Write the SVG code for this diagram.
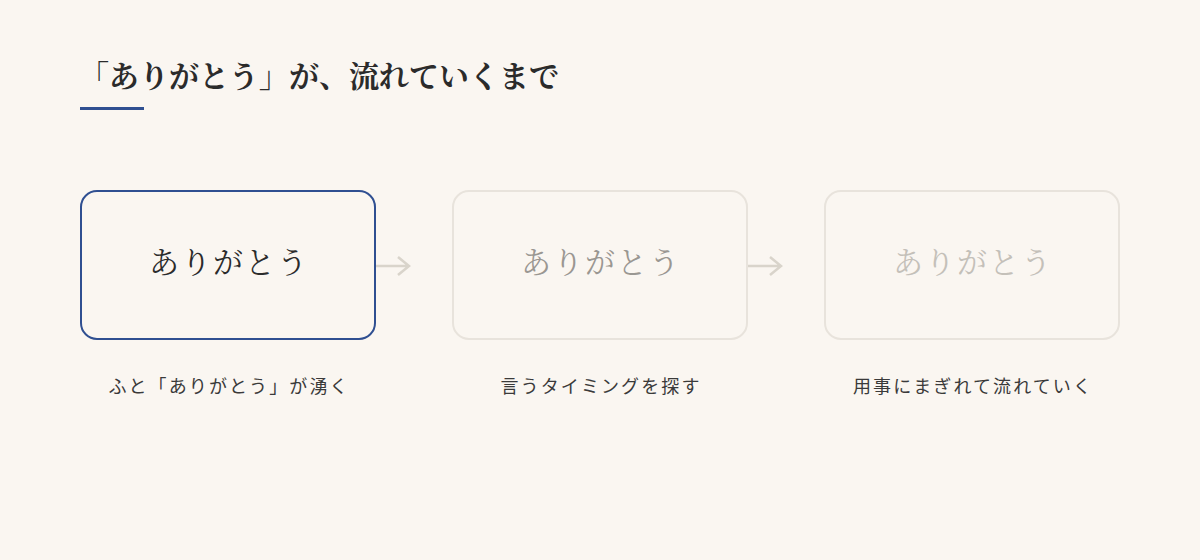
<svg xmlns="http://www.w3.org/2000/svg" width="1200" height="560" viewBox="0 0 1200 560">
  <defs>
    <style>
      .serif { font-family: "Noto Serif CJK JP", "Noto Sans CJK JP", serif; }
      .sans { font-family: "Noto Sans CJK JP", "Noto Sans", sans-serif; }
      .title { font-size: 30px; font-weight: 700; fill: #2b2b2b; }
      .boxtext { font-size: 30px; letter-spacing: 2px; text-anchor: middle; }
      .label { font-size: 18px; letter-spacing: 2.1px; fill: #3a3a3a; text-anchor: middle; }
      .box-active { fill: none; stroke: #2f4f91; stroke-width: 2; }
      .box-faded { fill: none; stroke: #e8e3dc; stroke-width: 2; }
      .conn { fill: none; stroke: #d9d4cb; stroke-width: 2.5; stroke-linecap: butt; stroke-linejoin: miter; }
    </style>
  </defs>
  <rect width="1200" height="560" fill="#faf6f1"/>

  <g id="title">
    <text class="serif title" x="79" y="87">「ありがとう」が、流れていくまで</text>
    <rect x="80" y="107" width="64" height="3" fill="#2f4f91"/>
  </g>

  <g id="connectors">
    <path class="conn" d="M375 266 H409 M398 257 L409 266 L398 275"/>
    <path class="conn" d="M747 266 H781 M770 257 L781 266 L770 275"/>
  </g>

  <g id="node1">
    <rect class="box-active" x="81" y="191" width="294" height="148" rx="16"/>
    <text class="serif boxtext" x="229" y="273" fill="#2b2b2b">ありがとう</text>
    <text class="sans label" x="229" y="393">ふと「ありがとう」が湧く</text>
  </g>

  <g id="node2">
    <rect class="box-faded" x="453" y="191" width="294" height="148" rx="16"/>
    <text class="serif boxtext" x="601" y="273" fill="#9a9792">ありがとう</text>
    <text class="sans label" x="601" y="393">言うタイミングを探す</text>
  </g>

  <g id="node3">
    <rect class="box-faded" x="825" y="191" width="294" height="148" rx="16"/>
    <text class="serif boxtext" x="973" y="273" fill="#c4c0b9">ありがとう</text>
    <text class="sans label" x="973" y="393">用事にまぎれて流れていく</text>
  </g>
</svg>
